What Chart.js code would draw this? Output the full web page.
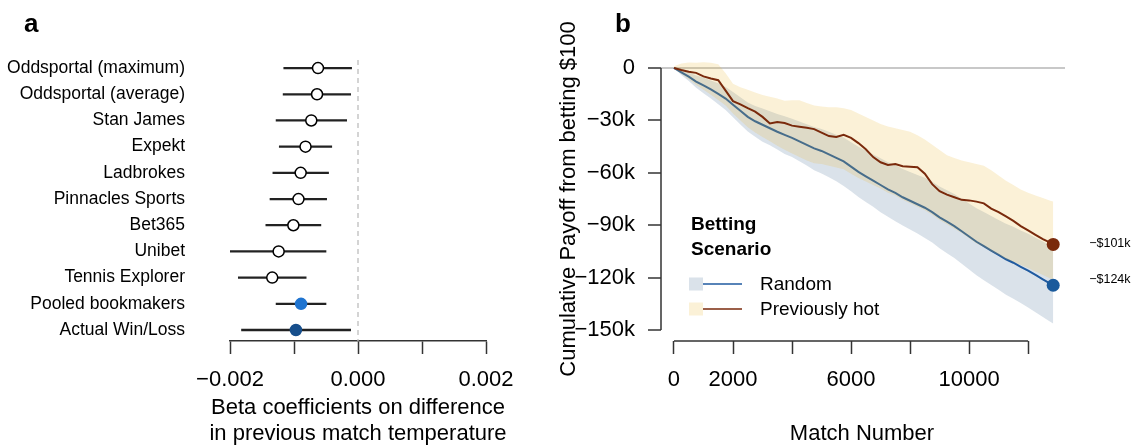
<!DOCTYPE html>
<html><head><meta charset="utf-8">
<script src="https://cdn.jsdelivr.net/npm/chart.js@4.4.1/dist/chart.umd.min.js"></script>
<style>
html,body{margin:0;padding:0;background:#fff;}
body{width:1134px;height:445px;position:relative;overflow:hidden;font-family:'Liberation Sans',Arial,Helvetica,sans-serif;color:#000;}
#ca{position:absolute;left:0;top:0;}
#cb{position:absolute;left:540px;top:0;}
.t{position:absolute;white-space:nowrap;}
</style></head><body>
<canvas id="ca" width="540" height="445"></canvas>
<canvas id="cb" width="594" height="445"></canvas>
<div class="t" style="left:24px;top:10px;font-size:26px;font-weight:bold;line-height:26px;">a</div>
<div class="t" style="left:615px;top:10px;font-size:26px;font-weight:bold;line-height:26px;">b</div>
<div class="t" style="left:158px;top:394px;width:400px;text-align:center;font-size:22px;line-height:26px;">Beta coefficients on difference<br>in previous match temperature</div>
<div class="t" style="left:662px;top:420px;width:400px;text-align:center;font-size:22px;line-height:26px;">Match Number</div>
<div class="t" style="left:368px;top:186px;width:400px;height:26px;text-align:center;font-size:22px;line-height:26px;transform:rotate(-90deg);">Cumulative Payoff from betting $100</div>
<script>
// ---------- Panel a data ----------
const rowLabels = ['Oddsportal (maximum)', 'Oddsportal (average)', 'Stan James', 'Expekt', 'Ladbrokes',
  'Pinnacles Sports', 'Bet365', 'Unibet', 'Tennis Explorer', 'Pooled bookmakers', 'Actual Win/Loss'];
const estimates = [-0.000625, -0.00064, -0.00073, -0.00082, -0.000896, -0.00093, -0.00101, -0.00124, -0.00134, -0.00089, -0.00097];
const lowerCI   = [-0.00116, -0.00117, -0.00128, -0.00123, -0.00133, -0.001375, -0.00144, -0.0020, -0.00187, -0.00128, -0.00182];
const upperCI   = [-0.00010, -0.000115, -0.000177, -0.00041, -0.00046, -0.00049, -0.00058, -0.00050, -0.00081, -0.00050, -0.000115];
const xTicksA   = [-0.002, -0.001, 0, 0.001, 0.002];
const xLabeledA = [-0.002, 0, 0.002];
const refLineA  = 0;

// ---------- Panel b data (payoffs in $ thousands) ----------
const matchNumbers = [0,250,500,750,1000,1250,1500,1750,2000,2250,2500,2750,3000,3250,3500,3750,4000,4250,4500,4750,
  5000,5250,5500,5750,6000,6250,6500,6750,7000,7250,7500,7750,8000,8250,8500,8750,9000,9250,9500,9750,
  10000,10250,10500,10750,11000,11250,11500,11750,12000,12250,12500,12750,12850];
const randomPayoffK = [0,-2.5,-5.0,-7.8,-10.0,-12.3,-14.8,-17.5,-21.0,-24.5,-28.0,-30.5,-32.5,-34.5,-36.5,-38.3,-40.0,-42.0,-44.0,-46.0,
  -47.5,-49.5,-51.5,-53.5,-56.5,-59.5,-62.0,-64.5,-67.0,-69.5,-71.5,-74.0,-76.0,-78.0,-80.0,-82.5,-85.5,-88.0,-90.5,-93.5,
  -96.5,-99.5,-102.0,-104.5,-107.0,-109.5,-111.5,-113.8,-116.0,-118.5,-121.0,-123.5,-124.4];
const randomLowK = [0,-4.0,-7.5,-11.3,-14.5,-17.5,-20.8,-24.1,-28.2,-32.3,-36.3,-39.3,-42.2,-44.3,-46.7,-49.3,-51.0,-53.4,-55.8,-58.5,
  -60.4,-62.5,-64.8,-67.5,-70.5,-73.9,-76.7,-79.5,-82.6,-85.1,-87.7,-90.2,-92.5,-94.8,-97.4,-99.9,-103.2,-106.0,-108.8,-112.1,
  -115.4,-118.7,-121.5,-124.3,-127.0,-129.8,-132.1,-134.6,-137.1,-139.8,-142.6,-145.3,-146.3];
const randomHighK = [0,-1.0,-2.5,-4.3,-5.5,-7.1,-8.8,-10.9,-13.8,-16.7,-19.7,-21.7,-23.2,-24.7,-26.3,-27.7,-29.0,-30.6,-32.2,-33.8,
  -34.9,-36.5,-38.2,-39.8,-42.5,-45.1,-47.3,-49.5,-51.7,-53.9,-55.6,-57.8,-59.5,-61.2,-62.9,-65.1,-67.8,-70.0,-72.2,-74.9,
  -77.6,-80.3,-82.5,-84.7,-87.0,-89.2,-90.9,-93.0,-94.9,-97.2,-99.4,-101.7,-102.5];
const hotPayoffK = [0,-1.2,-2.2,-2.8,-4.8,-6.0,-7.0,-13.0,-19.0,-20.8,-23.0,-25.0,-28.0,-31.8,-31.0,-31.5,-33.0,-33.6,-34.2,-35.0,
  -37.0,-39.0,-39.5,-38.3,-40.0,-43.0,-46.5,-51.0,-54.0,-55.5,-55.0,-56.3,-56.5,-56.8,-60.5,-66.5,-70.5,-72.5,-74.0,-75.5,
  -75.8,-76.5,-77.5,-80.5,-82.5,-85.0,-87.5,-90.5,-93.0,-95.5,-98.0,-100.0,-101.0];
const hotLowK = [-0.5,-3.5,-6.5,-9.8,-12.5,-15.3,-18.3,-21.5,-26.0,-30.0,-34.0,-37.0,-39.5,-42.0,-44.5,-46.8,-49.0,-51.0,-53.0,-54.5,
  -55.0,-56.0,-57.0,-58.0,-60.5,-63.0,-65.0,-67.0,-69.0,-71.5,-73.0,-75.5,-77.5,-79.5,-81.5,-84.0,-87.0,-89.5,-92.0,-94.5,
  -97.5,-100.5,-102.5,-105.0,-107.0,-109.5,-111.0,-112.8,-114.5,-116.5,-118.5,-120.5,-121.4];
const hotHighK = [1.0,2.5,3.2,3.0,3.3,3.0,2.2,-3.0,-9.0,-11.0,-12.5,-14.0,-15.5,-16.5,-17.5,-18.8,-18.5,-18.5,-20.0,-21.5,
  -22.0,-22.5,-22.5,-23.0,-24.0,-26.0,-28.0,-30.0,-32.0,-33.5,-34.5,-35.5,-36.5,-38.5,-41.0,-44.0,-47.0,-50.0,-51.5,-53.0,
  -54.0,-55.0,-56.0,-58.5,-61.5,-64.5,-67.0,-69.5,-71.5,-73.0,-74.5,-76.0,-76.5];
const xTicksB   = [0, 2000, 4000, 6000, 8000, 10000, 12000];
const xLabeledB = [0, 2000, 6000, 10000];
const yTicksB   = [0, -30, -60, -90, -120, -150];
const seriesNames = ['Random', 'Previously hot'];
const legendTitle = ['Betting', 'Scenario'];

// ---------- styles ----------
const FONT = "'Liberation Sans', Arial, Helvetica, sans-serif";
Chart.defaults.font.family = FONT;
Chart.defaults.color = '#000';
const AX = '#333333';
const pointFill = ['#fff','#fff','#fff','#fff','#fff','#fff','#fff','#fff','#fff','#1f74d0','#174f8c'];
const pointEdge = ['#000','#000','#000','#000','#000','#000','#000','#000','#000','#1f74d0','#174f8c'];
const BLUE = '#1f5aa0', BROWN = '#7a2a0c';
const BLUE_DOT = '#1a5a9c', BROWN_DOT = '#7a2a0c';
const RAND_FILL = 'rgba(70,110,150,0.2)';
const HOT_FILL = 'rgba(235,185,55,0.2)';
const RAND_PATCH = 'rgb(218,226,234)';
const HOT_PATCH = 'rgb(251,241,215)';

const minus = '\u2212';
const fmtA = v => (v < 0 ? minus : '') + Math.abs(v).toFixed(3);
const fmtB = v => v === 0 ? '0' : (v < 0 ? minus : '') + Math.abs(v) + 'k';

// ---------- Panel a ----------
const refLinePlugin = {
  id: 'refLine',
  beforeDatasetsDraw(chart) {
    const {ctx, chartArea, scales} = chart;
    const x = scales.x.getPixelForValue(refLineA);
    ctx.save();
    ctx.strokeStyle = '#bdbdbd';
    ctx.lineWidth = 1.3;
    ctx.setLineDash([5, 4]);
    ctx.beginPath();
    ctx.moveTo(x, chartArea.top + 5);
    ctx.lineTo(x, chartArea.bottom);
    ctx.stroke();
    ctx.restore();
  }
};

new Chart(document.getElementById('ca'), {
  type: 'bar',
  data: {
    datasets: [
      { type: 'scatter', data: rowLabels.map((_, i) => ({x: estimates[i], y: i})),
        pointRadius: 5.5, pointHoverRadius: 5.5, pointBackgroundColor: pointFill, pointBorderColor: pointEdge,
        pointBorderWidth: 1.5, order: 0 },
      { type: 'bar', data: rowLabels.map((_, i) => ({x: [lowerCI[i], upperCI[i]], y: i})),
        backgroundColor: '#222', borderWidth: 0, barThickness: 1.6, order: 1 }
    ]
  },
  options: {
    indexAxis: 'y', responsive: false, animation: false,
    layout: {padding: {top: 55, left: 0, right: 54, bottom: 0}},
    plugins: {legend: {display: false}, tooltip: {enabled: false}},
    scales: {
      x: {
        type: 'linear', min: -0.002, max: 0.002,
        afterBuildTicks: s => { s.ticks = xTicksA.map(v => ({value: v})); },
        afterFit: s => { s.height = 104; },
        ticks: {font: {size: 22}, color: '#000', padding: 13, maxRotation: 0, autoSkip: false,
          callback: v => xLabeledA.includes(v) ? fmtA(v) : ''},
        grid: {drawOnChartArea: false, drawTicks: true, tickLength: 13, tickColor: AX, tickWidth: 1.5},
        border: {display: true, color: AX, width: 1.5}
      },
      y: {
        type: 'linear', reverse: true, min: -0.5, max: 10.42, offset: false,
        afterBuildTicks: s => { s.ticks = rowLabels.map((_, i) => ({value: i})); },
        afterFit: s => { s.width = 230; },
        ticks: {font: {size: 17.5}, color: '#000', padding: 37, autoSkip: false,
          callback: v => rowLabels[v] !== undefined ? rowLabels[v] : ''},
        grid: {display: false}, border: {display: false}
      }
    }
  },
  plugins: [refLinePlugin]
});

// ---------- Panel b ----------
const xy = arr => matchNumbers.map((m, i) => ({x: m, y: arr[i]}));
const lastIdx = matchNumbers.length - 1;
const endValues = [hotPayoffK[lastIdx], randomPayoffK[lastIdx]];
const endLabelNudge = [-1, -6];

const bandBase = {borderWidth: 0, borderColor: 'rgba(0,0,0,0)', pointRadius: 0, pointHoverRadius: 0};

const axesPlugin = {
  id: 'axesB',
  afterDatasetsDraw(chart) {
    const {ctx, chartArea, scales} = chart;
    ctx.save();
    ctx.strokeStyle = AX;
    ctx.lineWidth = 1.5;
    ctx.beginPath();
    const xl = chartArea.left;
    ctx.moveTo(xl, scales.y.getPixelForValue(yTicksB[0]));
    ctx.lineTo(xl, scales.y.getPixelForValue(yTicksB[yTicksB.length - 1]));
    const yb = chartArea.bottom;
    ctx.moveTo(scales.x.getPixelForValue(xTicksB[0]), yb);
    ctx.lineTo(scales.x.getPixelForValue(xTicksB[xTicksB.length - 1]), yb);
    ctx.stroke();

    // end labels
    ctx.fillStyle = '#000';
    ctx.font = '12.5px ' + FONT;
    ctx.textAlign = 'left';
    ctx.textBaseline = 'middle';
    const xe = scales.x.getPixelForValue(matchNumbers[lastIdx]) + 36;
    endValues.forEach((v, i) => {
      ctx.fillText(minus + '$' + Math.round(Math.abs(v)) + 'k', xe, scales.y.getPixelForValue(v) + endLabelNudge[i]);
    });

    // legend
    ctx.font = 'bold 19px ' + FONT;
    ctx.textBaseline = 'alphabetic';
    ctx.fillText(legendTitle[0], 151, 230);
    ctx.fillText(legendTitle[1], 151, 255);
    const items = [{patch: RAND_PATCH, line: BLUE, y: 284}, {patch: HOT_PATCH, line: BROWN, y: 309}];
    ctx.font = '19px ' + FONT;
    ctx.textBaseline = 'middle';
    items.forEach((it, i) => {
      ctx.fillStyle = it.patch;
      ctx.fillRect(149, it.y - 6.5, 14, 13);
      ctx.strokeStyle = it.line;
      ctx.lineWidth = 1.5;
      ctx.beginPath();
      ctx.moveTo(163, it.y);
      ctx.lineTo(202, it.y);
      ctx.stroke();
      ctx.fillStyle = '#000';
      ctx.fillText(seriesNames[i], 220, it.y + 1);
    });
    ctx.restore();
  }
};

new Chart(document.getElementById('cb'), {
  type: 'line',
  data: {
    datasets: [
      {...bandBase, data: xy(randomLowK), fill: false, order: 6},
      {...bandBase, data: xy(randomHighK), fill: '-1', backgroundColor: RAND_FILL, order: 5},
      {data: xy(randomPayoffK), borderColor: BLUE, borderWidth: 2, pointRadius: 0, pointHoverRadius: 0, fill: false, order: 4},
      {...bandBase, data: xy(hotLowK), fill: false, order: 3.5},
      {...bandBase, data: xy(hotHighK), fill: '-1', backgroundColor: HOT_FILL, order: 3},
      {data: xy(hotPayoffK), borderColor: BROWN, borderWidth: 2, pointRadius: 0, pointHoverRadius: 0, fill: false, order: 2},
      {type: 'scatter', data: endValues.map(v => ({x: matchNumbers[lastIdx], y: v})),
        pointRadius: 6.5, pointHoverRadius: 6.5, pointBackgroundColor: [BROWN_DOT, BLUE_DOT], pointBorderWidth: 0, order: 1}
    ]
  },
  options: {
    responsive: false, animation: false,
    layout: {padding: {top: 57.5, left: 0, right: 69, bottom: 0}},
    plugins: {legend: {display: false}, tooltip: {enabled: false}},
    scales: {
      x: {
        type: 'linear', min: -440, max: 13250,
        afterBuildTicks: s => { s.ticks = xTicksB.map(v => ({value: v})); },
        afterFit: s => { s.height = 104; },
        ticks: {font: {size: 22}, color: '#000', padding: 13, maxRotation: 0, autoSkip: false,
          callback: v => xLabeledB.includes(v) ? String(v) : ''},
        grid: {drawOnChartArea: false, drawTicks: true, tickLength: 13, tickColor: AX, tickWidth: 1.5},
        border: {display: false}
      },
      y: {
        type: 'linear', min: -156.3, max: 6,
        afterBuildTicks: s => { s.ticks = yTicksB.map(v => ({value: v})); },
        afterFit: s => { s.width = 121; },
        ticks: {font: {size: 22}, color: '#000', padding: 13, autoSkip: false, callback: v => fmtB(v)},
        grid: {drawOnChartArea: true, drawTicks: true, tickLength: 13, tickColor: AX, tickWidth: 1.5, lineWidth: 2,
          color: c => (c.tick && c.tick.value === 0) ? '#c8c8c8' : 'rgba(0,0,0,0)'},
        border: {display: false}
      }
    }
  },
  plugins: [axesPlugin]
});
</script>
</body></html>
